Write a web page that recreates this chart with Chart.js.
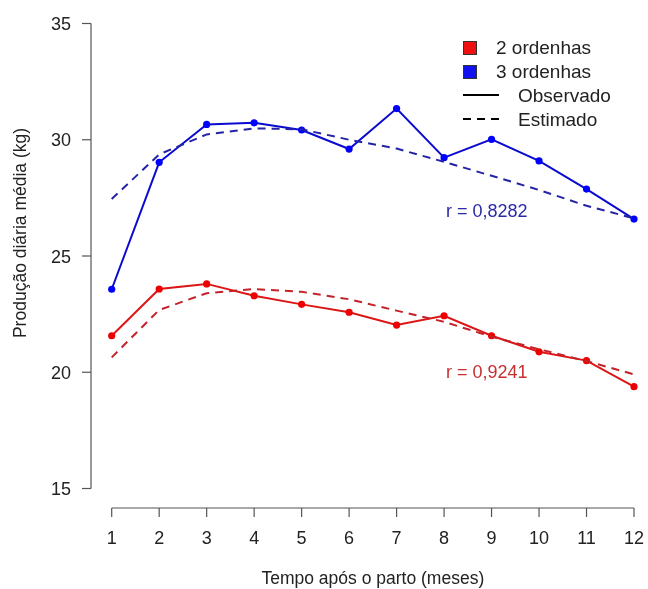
<!DOCTYPE html>
<html>
<head>
<meta charset="utf-8">
<script src="https://cdn.jsdelivr.net/npm/chart.js@4/dist/chart.umd.min.js"></script>
<style>
html,body{margin:0;padding:0;background:#fff;}
#wrap{width:648px;height:589px;position:relative;}
</style>
</head>
<body>
<div id="wrap"><canvas id="c" width="648" height="589"></canvas></div>
<script>
// ---- data ----
const months = [1,2,3,4,5,6,7,8,9,10,11,12];
const obs2 = [21.57, 23.58, 23.80, 23.29, 22.92, 22.58, 22.03, 22.43, 21.57, 20.88, 20.50, 19.38];
const est2 = [20.64, 22.68, 23.40, 23.58, 23.46, 23.14, 22.65, 22.17, 21.53, 20.99, 20.48, 19.91];
const obs3 = [23.57, 29.03, 30.66, 30.73, 30.42, 29.60, 31.34, 29.23, 30.02, 29.09, 27.88, 26.59];
const est3 = [27.45, 29.37, 30.23, 30.49, 30.45, 30.00, 29.62, 29.05, 28.45, 27.84, 27.16, 26.62];
const xTicks = [1,2,3,4,5,6,7,8,9,10,11,12];
const yTicks = [15,20,25,30,35];
const xTitle = 'Tempo após o parto (meses)';
const yTitle = 'Produção diária média (kg)';
const legendItems = ['2 ordenhas','3 ordenhas','Observado','Estimado'];
const rLabels = [{text:'r = 0,8282', x:8.9, y:26.9, color:'#2a2aa8'},
                 {text:'r = 0,9241', x:8.9, y:19.95, color:'#c83030'}];

const toXY = (arr) => arr.map((v,i)=>({x:months[i], y:v}));
const FONT = '"Liberation Sans", Arial, sans-serif';

const axesPlugin = {
  id:'rAxes',
  afterDraw(chart){
    const ctx = chart.ctx, xs = chart.scales.x, ys = chart.scales.y;
    ctx.save();
    ctx.strokeStyle = '#555';
    ctx.lineWidth = 1.2;
    ctx.fillStyle = '#222';
    // y axis
    const yAxX = 91;
    ctx.beginPath();
    ctx.moveTo(yAxX, ys.getPixelForValue(yTicks[0]));
    ctx.lineTo(yAxX, ys.getPixelForValue(yTicks[yTicks.length-1]));
    ctx.stroke();
    ctx.font = '18px ' + FONT;
    ctx.textAlign = 'right';
    ctx.textBaseline = 'alphabetic';
    yTicks.forEach(t=>{
      const py = ys.getPixelForValue(t);
      ctx.beginPath(); ctx.moveTo(yAxX, py); ctx.lineTo(yAxX-9, py); ctx.stroke();
      ctx.fillText(String(t), 71, py+6.5);
    });
    // x axis
    const xAxY = 508;
    ctx.beginPath();
    ctx.moveTo(xs.getPixelForValue(xTicks[0]), xAxY);
    ctx.lineTo(xs.getPixelForValue(xTicks[xTicks.length-1]), xAxY);
    ctx.stroke();
    ctx.textAlign = 'center';
    xTicks.forEach(t=>{
      const px = xs.getPixelForValue(t);
      ctx.beginPath(); ctx.moveTo(px, xAxY); ctx.lineTo(px, xAxY+9); ctx.stroke();
      ctx.fillText(String(t), px, 544);
    });
    // titles
    ctx.font = '17.5px ' + FONT;
    ctx.fillText(xTitle, (xs.left+xs.right)/2, 584);
    ctx.save();
    ctx.translate(26, 233);
    ctx.rotate(-Math.PI/2);
    ctx.textAlign = 'center';
    ctx.fillText(yTitle, 0, 0);
    ctx.restore();
    // r labels
    ctx.font = '18px ' + FONT;
    rLabels.forEach(r=>{
      ctx.fillStyle = r.color;
      ctx.textAlign = 'center';
      ctx.textBaseline = 'middle';
      ctx.fillText(r.text, xs.getPixelForValue(r.x), ys.getPixelForValue(r.y));
    });
    // legend
    ctx.textAlign = 'left';
    ctx.textBaseline = 'middle';
    ctx.fillStyle = '#222';
    ctx.font = '19px ' + FONT;
    const lx = 463;
    const rows = [48, 72, 95, 119];
    [['#ee1111'],['#1111ee']].forEach((c,i)=>{
      ctx.fillStyle = c[0];
      ctx.fillRect(lx, rows[i]-7, 14, 14);
      ctx.strokeStyle = '#333';
      ctx.lineWidth = 1;
      ctx.strokeRect(lx+0.5, rows[i]-6.5, 13, 13);
      ctx.fillStyle = '#222';
      ctx.fillText(legendItems[i], 496, rows[i]+1);
    });
    ctx.strokeStyle = '#000';
    ctx.lineWidth = 2;
    ctx.beginPath(); ctx.moveTo(lx, rows[2]); ctx.lineTo(lx+36, rows[2]); ctx.stroke();
    ctx.setLineDash([8,6]);
    ctx.beginPath(); ctx.moveTo(lx, rows[3]); ctx.lineTo(lx+36, rows[3]); ctx.stroke();
    ctx.setLineDash([]);
    ctx.fillText(legendItems[2], 518, rows[2]+2);
    ctx.fillText(legendItems[3], 518, rows[3]+2);
    ctx.restore();
  }
};

new Chart(document.getElementById('c'), {
  type:'line',
  data:{
    datasets:[
      {label:'3 ordenhas estimado', data:toXY(est3), borderColor:'#2323a6', borderWidth:2, borderDash:[8,6], pointRadius:0, fill:false, tension:0, clip:false},
      {label:'2 ordenhas estimado', data:toXY(est2), borderColor:'#c4222a', borderWidth:2, borderDash:[8,6], pointRadius:0, fill:false, tension:0, clip:false},
      {label:'3 ordenhas', data:toXY(obs3), borderColor:'#0a0ad0', backgroundColor:'#0000ff', borderWidth:2, pointRadius:3.6, pointBorderWidth:0, pointBackgroundColor:'#0000ff', fill:false, tension:0, clip:false},
      {label:'2 ordenhas', data:toXY(obs2), borderColor:'#dd1515', backgroundColor:'#ee0000', borderWidth:2, pointRadius:3.6, pointBorderWidth:0, pointBackgroundColor:'#ee0000', fill:false, tension:0, clip:false}
    ]
  },
  options:{
    responsive:false,
    animation:false,
    devicePixelRatio:1,
    layout:{padding:{left:111.7, right:14, top:23.5, bottom:100.5}},
    scales:{
      x:{type:'linear', min:1, max:12, display:false},
      y:{type:'linear', min:15, max:35, display:false}
    },
    plugins:{legend:{display:false}, tooltip:{enabled:false}}
  },
  plugins:[axesPlugin]
});
</script>
</body>
</html>
